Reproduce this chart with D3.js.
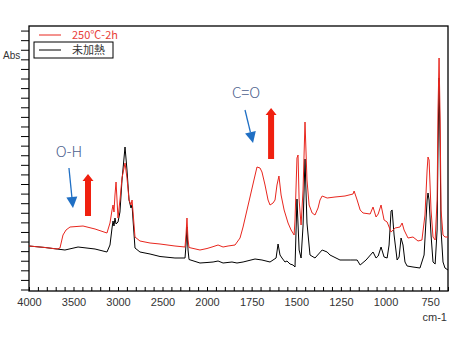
<!DOCTYPE html><html><head><meta charset="utf-8">
<script src="https://cdn.jsdelivr.net/npm/d3@7"></script>
<style>
body { margin: 0; background: #fff; }
text { font-family: "Liberation Sans", "DejaVu Sans", sans-serif; }
</style>
</head>
<body><svg id="chart" width="450" height="340"></svg>
<script>

// wavenumbers (cm-1) and absorbance values
var wnBlack = [4000,3820,3685,3596,3449,3258,3124,3090,3067,3056,3045,3034,3022,3000,2978,2955,2921,2899,2876,2854,2842,2831,2809,2753,2640,2528,2360,2247,2236,2225,2213,2202,2079,
  2000,1966,1938,1910,1860,1832,1798,1731,1692,1647,1613,1602,1591,1580,1563,1552,1535,1518,1507,1496,1484,1473,1462,1451,1440,1423,1395,1355,1327,1311,1255,1198,1159,1142,1109,
  1070,1053,1041,1025,1008,991,980,969,963,952,935,924,913,902,891,879,846,807,784,767,762,756,745,734,722,711,706,700,694,689,678,667,650];
var absBlack = [0.45,0.435,0.42,0.41,0.44,0.42,0.39,0.46,0.63,0.70,0.65,0.73,0.67,0.69,0.79,1.11,1.44,1.21,0.91,0.83,0.86,0.71,0.43,0.39,0.37,0.345,0.33,0.33,0.46,0.64,0.41,0.315,0.28,
  0.285,0.29,0.30,0.28,0.29,0.28,0.29,0.32,0.31,0.29,0.33,0.47,0.36,0.33,0.29,0.30,0.27,0.26,0.24,0.92,0.41,0.33,0.65,1.32,0.68,0.36,0.33,0.41,0.39,0.36,0.31,0.31,0.31,0.26,0.31,
  0.39,0.33,0.35,0.44,0.34,0.33,0.46,0.80,0.81,0.56,0.31,0.34,0.53,0.46,0.29,0.25,0.24,0.23,0.36,0.91,0.98,0.91,0.56,0.29,0.27,0.61,1.41,2.13,1.41,0.61,0.29,0.23,0.21];

var wnRed = [4000,3820,3685,3652,3618,3584,3539,3393,3258,3124,3090,3067,3056,3045,3034,3022,3011,3000,2978,2955,2921,2899,2876,2854,2842,2831,2809,2753,2640,2528,2360,2247,2236,2225,2213,2202,2079,
  2000,1972,1938,1910,1882,1843,1815,1798,1776,1759,1737,1720,1703,1692,1675,1658,1647,1630,1619,1608,1597,1585,1568,1546,1529,1512,1507,1496,1490,1484,1473,1462,1451,1440,1428,1411,1395,
  1378,1367,1355,1327,1283,1227,1182,1176,1159,1142,1126,1086,1070,1053,1041,1025,1008,991,969,946,919,907,896,874,846,818,796,779,767,762,756,745,734,722,711,706,700,694,689,678,667,650];
var absRed = [0.45,0.435,0.42,0.43,0.56,0.61,0.64,0.65,0.62,0.58,0.68,0.81,0.86,0.79,0.96,1.09,0.91,0.73,0.91,1.13,1.28,1.13,0.91,0.86,0.91,0.79,0.54,0.50,0.48,0.47,0.45,0.44,0.56,0.73,0.51,0.435,0.41,
  0.425,0.44,0.46,0.44,0.45,0.46,0.53,0.64,0.81,0.94,1.11,1.24,1.23,1.19,1.06,0.91,0.86,0.88,0.91,1.06,1.15,0.96,0.81,0.68,0.61,0.56,0.71,1.33,1.36,0.91,0.66,1.01,1.69,1.11,0.86,0.78,0.76,
  0.83,0.91,0.95,0.93,0.94,0.95,0.97,1.00,0.91,0.81,0.78,0.77,0.84,0.74,0.77,0.86,0.71,0.69,0.59,0.63,0.64,0.68,0.61,0.53,0.54,0.50,0.51,0.76,1.21,1.34,1.31,0.81,0.54,0.51,0.91,1.81,2.33,1.71,0.81,0.56,0.54,0.54];

var xLabels = [4000,3500,3000,2500,2000,1750,1500,1250,1000,750];
var legendNames = ["250℃-2h", "未加熱"];
var seriesColors = ["#e8261e", "#000000"];

var svg = d3.select("#chart");

// split axis: 4000-2000 compressed, 2000-650 expanded
var x = d3.scaleLinear().domain([4000, 2000, 650]).range([29, 207, 448]);
var y = d3.scaleLinear().domain([0, 2.65]).range([291, 26]);

var xTicks = d3.range(4000, 2000, -100).concat(d3.range(2000, 649, -50));
var yTicks = d3.range(28).map(function(k) { return 0.015 + k * 0.0959; });

// frame
svg.append("rect")
  .attr("x", 29).attr("y", 26)
  .attr("width", 448 - 29).attr("height", 291 - 26)
  .attr("fill", "none").attr("stroke", "#000").attr("stroke-width", 1.3);

// bottom axis
var xAxis = svg.append("g")
  .attr("transform", "translate(0,291)")
  .call(d3.axisBottom(x).tickValues(xTicks).tickSizeInner(-4).tickSizeOuter(0)
    .tickFormat(function(d) { return xLabels.indexOf(d) >= 0 ? d : ""; }));
xAxis.select(".domain").remove();
xAxis.selectAll("line").attr("stroke", "#000");
xAxis.selectAll("text")
  .attr("y", 7)
  .attr("dy", "0.71em")
  .style("font-size", "11px")
  .style("font-family", "Liberation Sans, sans-serif")
  .attr("fill", "#333");

// left axis, unlabeled ticks
var yAxis = svg.append("g")
  .attr("transform", "translate(29,0)")
  .call(d3.axisLeft(y).tickValues(yTicks).tickSizeInner(8).tickSizeOuter(0).tickFormat(""));
yAxis.select(".domain").remove();
yAxis.selectAll("line").attr("stroke", "#000");

svg.append("text").attr("x", 3).attr("y", 59)
  .style("font-size", "10px").attr("fill", "#333").text("Abs");
svg.append("text").attr("x", 447).attr("y", 321).attr("text-anchor", "end")
  .style("font-size", "11px").attr("fill", "#333").text("cm-1");

// spectra
var line = d3.line()
  .x(function(d) { return x(d[0]); })
  .y(function(d) { return y(d[1]); });

svg.append("path")
  .datum(d3.zip(wnBlack, absBlack))
  .attr("d", line).attr("fill", "none")
  .attr("stroke", seriesColors[1]).attr("stroke-width", 1);
svg.append("path")
  .datum(d3.zip(wnRed, absRed))
  .attr("d", line).attr("fill", "none")
  .attr("stroke", seriesColors[0]).attr("stroke-width", 1);

// legend
svg.append("rect").attr("x", 34).attr("y", 42).attr("width", 79).attr("height", 16)
  .attr("fill", "#fff").attr("stroke", "#000").attr("stroke-width", 1);
legendNames.forEach(function(name, i) {
  var ly = 35 + i * 15;
  svg.append("line").attr("x1", 39).attr("x2", 61).attr("y1", ly).attr("y2", ly)
    .attr("stroke", seriesColors[i]).attr("stroke-width", 1);
  svg.append("text").attr("x", 72).attr("y", ly + 4)
    .style("font-family", "Noto Sans CJK JP, sans-serif")
    .style("font-size", "11px")
    .attr("fill", i == 0 ? "#e8413a" : "#333")
    .text(name);
});

// annotations
var labels = [["O-H", 3551, 1.34], ["C=O", 1781, 1.93]];
var blueArrows = [[3551, 1.23, 3506, 0.83], [1787, 1.81, 1742, 1.48]];
var redArrows = [[3337, 0.75, 1.17], [1641, 1.32, 1.83]];

labels.forEach(function(l) {
  svg.append("text").attr("x", x(l[1])).attr("y", y(l[2])).attr("text-anchor", "middle")
    .style("font-family", "Noto Sans CJK JP, sans-serif")
    .style("font-size", "15px").style("font-weight", 300)
    .attr("fill", "#4d5f8e").text(l[0]);
});

blueArrows.forEach(function(a) {
  var x1 = x(a[0]), y1 = y(a[1]), x2 = x(a[2]), y2 = y(a[3]);
  var ang = Math.atan2(y2 - y1, x2 - x1);
  var hl = 11, hw = 5.5;
  var bx = x2 - hl * Math.cos(ang), by = y2 - hl * Math.sin(ang);
  svg.append("line").attr("x1", x1).attr("y1", y1).attr("x2", bx).attr("y2", by)
    .attr("stroke", "#1f6fc4").attr("stroke-width", 1.3);
  svg.append("path")
    .attr("d", "M" + x2 + "," + y2 +
      "L" + (bx + hw * Math.sin(ang)) + "," + (by - hw * Math.cos(ang)) +
      "L" + (bx - hw * Math.sin(ang)) + "," + (by + hw * Math.cos(ang)) + "Z")
    .attr("fill", "#1f6fc4");
});

redArrows.forEach(function(a) {
  var cx = x(a[0]), yb = y(a[1]), yt = y(a[2]);
  svg.append("path")
    .attr("d", "M" + (cx - 3) + "," + yb + "L" + (cx - 3) + "," + (yt + 7) +
      "L" + (cx - 5.5) + "," + (yt + 7) + "L" + cx + "," + yt +
      "L" + (cx + 5.5) + "," + (yt + 7) + "L" + (cx + 3) + "," + (yt + 7) +
      "L" + (cx + 3) + "," + yb + "Z")
    .attr("fill", "#f0200f");
});

</script>
</body></html>
